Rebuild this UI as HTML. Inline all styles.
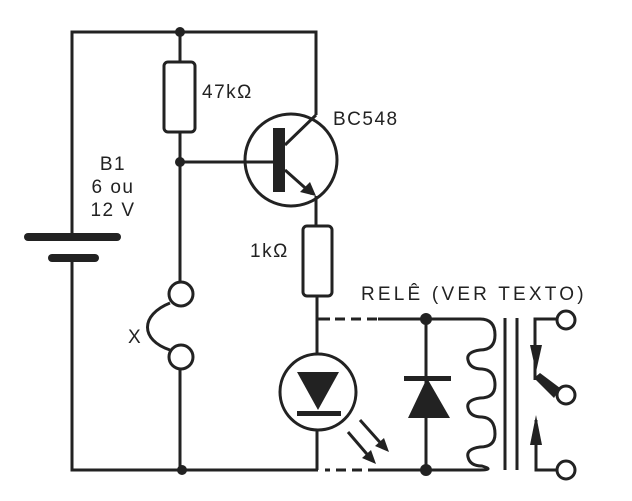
<!DOCTYPE html>
<html><head><style>body{margin:0;background:#fff}svg{display:block}text{font-family:"Liberation Sans",sans-serif;fill:#222}</style></head><body>
<svg width="632" height="501" viewBox="0 0 632 501" xmlns="http://www.w3.org/2000/svg">
<g stroke="#222" stroke-width="3" fill="none">
<path d="M72 237V32H316V115"/>
<path d="M72 258V470H318"/>
<path d="M180 32V62M180 132V282M180 369V470"/>
<rect x="164" y="62" width="31" height="70" rx="4"/>
<path d="M180 162H273"/>
<circle cx="291" cy="160" r="46"/>
<path d="M285 145L316 115M285 170L312 194M316 196V226"/>
<rect x="303" y="226" width="29" height="70" rx="4"/>
<path d="M317 296V354M317 430V470"/>
<circle cx="181" cy="294" r="12"/>
<circle cx="181" cy="357" r="12"/>
<path d="M170 303C140 315 140 340 170 350"/>
<circle cx="318" cy="392" r="38"/>
<path d="M318 319H330" />
<path d="M335 319H378" stroke-dasharray="10 6"/>
<path d="M378 319H480Q495 319 495 335Q495 350 480 350Q466 352 468 360Q470 369 482 369Q495 370 495 385Q495 398 480 398Q466 400 468 408Q470 417 482 417Q495 418 495 434Q495 447 480 447Q466 449 468 457Q470 466 482 466Q495 470 480 470H378"/>
<path d="M378 470H325" stroke-dasharray="10 6"/>
<path d="M426 319V470"/>
<path d="M505 318V470M517 318V470"/>
<path d="M557 319H535V380M536 420V470H557"/>
<circle cx="566" cy="320" r="9"/>
<circle cx="566" cy="395" r="9"/>
<circle cx="566" cy="470" r="9"/>
<path d="M348 432L372 460M360 420L385 448"/>
</g>
<g fill="#222">
<rect x="24" y="233" width="97" height="8" rx="4"/>
<rect x="48" y="254" width="51" height="8" rx="4"/>
<rect x="273" y="128" width="12" height="64"/>
<polygon points="316,196 300,192 310,182"/>
<circle cx="180" cy="32" r="5"/><circle cx="180" cy="162" r="5"/><circle cx="182" cy="470" r="5"/>
<circle cx="426" cy="319" r="6"/><circle cx="426" cy="470" r="6"/>
<polygon points="297,372 339,372 318,410"/>
<rect x="297" y="411" width="44" height="5"/>
<rect x="404" y="376" width="47" height="5"/>
<polygon points="427,378 408,418 450,418"/>
<polygon points="530,345 542,345 536,372"/>
<polygon points="530,445 542,445 536,415"/>
<polygon points="534,378 540,373 560,388 554,398"/>
<polygon points="376,464 362,458 371,450"/>
<polygon points="389,452 375,446 384,438"/>
</g>
<g font-size="19" letter-spacing="1.5">
<text x="202" y="98">47kΩ</text>
<text x="333" y="125">BC548</text>
<text x="113" y="170" text-anchor="middle">B1</text>
<text x="113" y="193" text-anchor="middle">6 ou</text>
<text x="113" y="216" text-anchor="middle">12 V</text>
<text x="250" y="257">1kΩ</text>
<text x="361" y="300" letter-spacing="3.2">RELÊ (VER  TEXTO)</text>
<text x="128" y="343">X</text>
</g>
</svg>
</body></html>
